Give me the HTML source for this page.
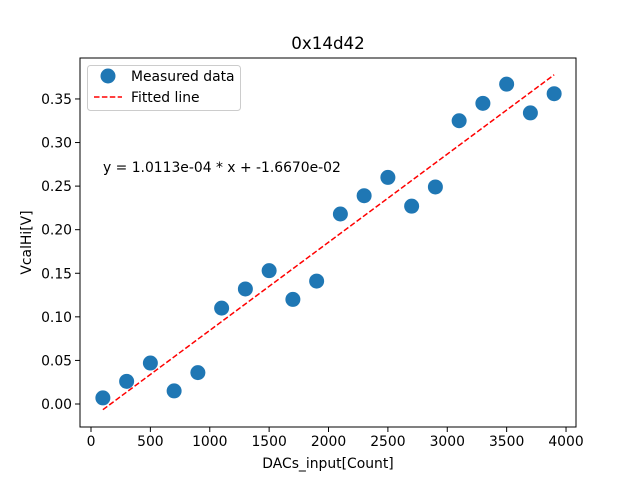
<!DOCTYPE html>
<html><head><meta charset="utf-8"><style>
body{margin:0;background:#fff}
svg{display:block;font-family:"DejaVu Sans","Liberation Sans",sans-serif}
</style></head><body>
<svg id="chart" width="640" height="480"></svg>
<script>
const xValues=[100,300,500,700,900,1100,1300,1500,1700,1900,2100,2300,2500,2700,2900,3100,3300,3500,3700,3900];
const yValues=[0.007,0.026,0.047,0.015,0.036,0.110,0.132,0.153,0.120,0.141,0.218,0.239,0.260,0.227,0.249,0.325,0.345,0.367,0.334,0.356];
const fitSlope=1.0113e-4;
const fitIntercept=-1.6670e-2;
const xTicks=[0,500,1000,1500,2000,2500,3000,3500,4000];
const yTicks=[0,0.05,0.10,0.15,0.20,0.25,0.30,0.35];
const L=80,R=576,T=58,B=427;
const xMin=-92.6,xMax=4084,yMin=-0.0264,yMax=0.3970;
const sx=v=>L+(v-xMin)/(xMax-xMin)*(R-L);
const sy=v=>B-(v-yMin)/(yMax-yMin)*(B-T);
const svg=document.getElementById('chart');
const NS='http://www.w3.org/2000/svg';
function mk(tag,attrs,text){const e=document.createElementNS(NS,tag);for(const k in attrs)e.setAttribute(k,attrs[k]);if(text!==undefined)e.textContent=text;svg.appendChild(e);return e;}
let e;
e=mk('text',{x:(L+R)/2,y:49,'text-anchor':'middle','font-size':'16.7'},'0x14d42');


xTicks.forEach(t=>{
  e=mk('line',{x1:sx(t),x2:sx(t),y1:B,y2:B+5,stroke:'#000','stroke-width':1});
  
  
  e=mk('text',{x:sx(t),y:B+19,'text-anchor':'middle','font-size':'13.9'},String(t));
  
  
});
yTicks.forEach(t=>{
  e=mk('line',{x1:L-5,x2:L,y1:sy(t),y2:sy(t),stroke:'#000','stroke-width':1});
  
  
  e=mk('text',{x:L-8,y:sy(t)+5,'text-anchor':'end','font-size':'13.9'},t.toFixed(2));
  
  
});
e=mk('text',{x:(L+R)/2,y:468,'text-anchor':'middle','font-size':'13.9'},'DACs_input[Count]');


e=mk('text',{x:31,y:(T+B)/2,'text-anchor':'middle','font-size':'13.9',transform:'rotate(-90 31 '+((T+B)/2)+')'},'VcalHi[V]');


xValues.forEach((x,i)=>{
  e=mk('circle',{cx:sx(x),cy:sy(yValues[i]),r:7.5,fill:'#1f77b4'});
  
  
});
const x0=xValues[0],x1=xValues[xValues.length-1];
e=mk('line',{x1:sx(x0),y1:sy(fitSlope*x0+fitIntercept),x2:sx(x1),y2:sy(fitSlope*x1+fitIntercept),stroke:'#ff0000','stroke-width':1.5,'stroke-dasharray':'5.5,2.4'});


e=mk('text',{x:103,y:172,'font-size':'13.9'},'y = 1.0113e-04 * x + -1.6670e-02');


e=mk('rect',{x:L,y:T,width:R-L,height:B-T,fill:'none',stroke:'#000','stroke-width':1});


e=mk('rect',{x:87.5,y:65.5,width:153,height:45,rx:3,fill:'#fff','fill-opacity':0.8,stroke:'#ccc'});


e=mk('circle',{cx:108,cy:76,r:7.5,fill:'#1f77b4'});


e=mk('text',{x:131,y:81,'font-size':'13.9'},'Measured data');


e=mk('line',{x1:94,x2:122,y1:97,y2:97,stroke:'#ff0000','stroke-width':1.5,'stroke-dasharray':'5.5,2.4'});


e=mk('text',{x:131,y:102,'font-size':'13.9'},'Fitted line');


</script>
</body></html>
